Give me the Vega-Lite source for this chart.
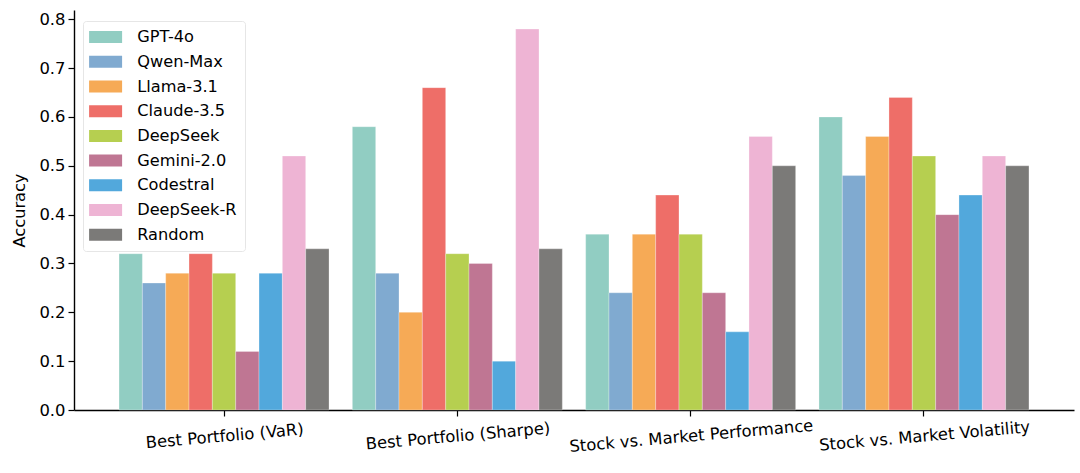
{
  "$schema": "https://vega.github.io/schema/vega-lite/v6.json",
  "width": 1000,
  "height": 400,
  "autosize": {"type": "none"},
  "padding": {"left": 74, "top": 10, "right": 6, "bottom": 63},
  "background": "white",
  "config": {
    "font": "DejaVu Sans",
    "view": {"stroke": null},
    "axis": {"grid": false, "domainColor": "black", "tickColor": "black", "labelColor": "black", "titleColor": "black", "labelFont": "DejaVu Sans", "titleFont": "DejaVu Sans", "titleFontWeight": "normal"}
  },
  "data": {"values": [
    {"task": "Best Portfolio (VaR)", "model": "GPT-4o", "acc": 0.32},
    {"task": "Best Portfolio (VaR)", "model": "Qwen-Max", "acc": 0.26},
    {"task": "Best Portfolio (VaR)", "model": "Llama-3.1", "acc": 0.28},
    {"task": "Best Portfolio (VaR)", "model": "Claude-3.5", "acc": 0.32},
    {"task": "Best Portfolio (VaR)", "model": "DeepSeek", "acc": 0.28},
    {"task": "Best Portfolio (VaR)", "model": "Gemini-2.0", "acc": 0.12},
    {"task": "Best Portfolio (VaR)", "model": "Codestral", "acc": 0.28},
    {"task": "Best Portfolio (VaR)", "model": "DeepSeek-R", "acc": 0.52},
    {"task": "Best Portfolio (VaR)", "model": "Random", "acc": 0.33},
    {"task": "Best Portfolio (Sharpe)", "model": "GPT-4o", "acc": 0.58},
    {"task": "Best Portfolio (Sharpe)", "model": "Qwen-Max", "acc": 0.28},
    {"task": "Best Portfolio (Sharpe)", "model": "Llama-3.1", "acc": 0.20},
    {"task": "Best Portfolio (Sharpe)", "model": "Claude-3.5", "acc": 0.66},
    {"task": "Best Portfolio (Sharpe)", "model": "DeepSeek", "acc": 0.32},
    {"task": "Best Portfolio (Sharpe)", "model": "Gemini-2.0", "acc": 0.30},
    {"task": "Best Portfolio (Sharpe)", "model": "Codestral", "acc": 0.10},
    {"task": "Best Portfolio (Sharpe)", "model": "DeepSeek-R", "acc": 0.78},
    {"task": "Best Portfolio (Sharpe)", "model": "Random", "acc": 0.33},
    {"task": "Stock vs. Market Performance", "model": "GPT-4o", "acc": 0.36},
    {"task": "Stock vs. Market Performance", "model": "Qwen-Max", "acc": 0.24},
    {"task": "Stock vs. Market Performance", "model": "Llama-3.1", "acc": 0.36},
    {"task": "Stock vs. Market Performance", "model": "Claude-3.5", "acc": 0.44},
    {"task": "Stock vs. Market Performance", "model": "DeepSeek", "acc": 0.36},
    {"task": "Stock vs. Market Performance", "model": "Gemini-2.0", "acc": 0.24},
    {"task": "Stock vs. Market Performance", "model": "Codestral", "acc": 0.16},
    {"task": "Stock vs. Market Performance", "model": "DeepSeek-R", "acc": 0.56},
    {"task": "Stock vs. Market Performance", "model": "Random", "acc": 0.50},
    {"task": "Stock vs. Market Volatility", "model": "GPT-4o", "acc": 0.60},
    {"task": "Stock vs. Market Volatility", "model": "Qwen-Max", "acc": 0.48},
    {"task": "Stock vs. Market Volatility", "model": "Llama-3.1", "acc": 0.56},
    {"task": "Stock vs. Market Volatility", "model": "Claude-3.5", "acc": 0.64},
    {"task": "Stock vs. Market Volatility", "model": "DeepSeek", "acc": 0.52},
    {"task": "Stock vs. Market Volatility", "model": "Gemini-2.0", "acc": 0.40},
    {"task": "Stock vs. Market Volatility", "model": "Codestral", "acc": 0.44},
    {"task": "Stock vs. Market Volatility", "model": "DeepSeek-R", "acc": 0.52},
    {"task": "Stock vs. Market Volatility", "model": "Random", "acc": 0.50}
  ]},
  "mark": {"type": "bar", "stroke": "white", "strokeOpacity": 0.35, "strokeWidth": 0.8},
  "encoding": {
    "x": {
      "field": "task", "type": "nominal", "sort": null,
      "scale": {"paddingInner": 0.1, "paddingOuter": 0.193},
      "axis": {"title": null, "labelAngle": -5, "labelAlign": "center", "labelBaseline": "top", "labelFontSize": 16.4, "labelPadding": 12, "tickSize": 6, "tickWidth": 1.2, "domainWidth": 1.4, "labelLimit": 300}
    },
    "xOffset": {"field": "model", "type": "nominal", "sort": ["GPT-4o","Qwen-Max","Llama-3.1","Claude-3.5","DeepSeek","Gemini-2.0","Codestral","DeepSeek-R","Random"], "scale": {"paddingInner": 0, "paddingOuter": 0}},
    "y": {
      "field": "acc", "type": "quantitative",
      "scale": {"domain": [0, 0.819], "nice": false},
      "axis": {"title": "Accuracy", "titleFontSize": 16.2, "titlePadding": 11, "labelFontSize": 16.4, "values": [0,0.1,0.2,0.3,0.4,0.5,0.6,0.7,0.8], "format": ".1f", "tickSize": 6, "tickWidth": 1.2, "labelPadding": 3, "domainWidth": 1.4}
    },
    "color": {
      "field": "model", "type": "nominal", "sort": ["GPT-4o","Qwen-Max","Llama-3.1","Claude-3.5","DeepSeek","Gemini-2.0","Codestral","DeepSeek-R","Random"],
      "scale": {"domain": ["GPT-4o","Qwen-Max","Llama-3.1","Claude-3.5","DeepSeek","Gemini-2.0","Codestral","DeepSeek-R","Random"], "range": ["#91CDC2","#80AAD0","#F6AA56","#EE6E68","#B6CF50","#BF7693","#52A8DC","#EEB4D4","#7B7A78"]},
      "legend": {
        "title": null, "orient": "none", "legendX": 9, "legendY": 11,
        "symbolType": "M-2.75,-1H2.75V1H-2.75Z", "symbolSize": 144, "symbolOffset": 6.5, "symbolStrokeWidth": 0, "symbolOpacity": 1,
        "labelFontSize": 16.2, "labelColor": "black", "labelOffset": 23.5, "rowPadding": 7.7,
        "padding": 8, "fillColor": "white", "strokeColor": "#e6e6e6", "cornerRadius": 3
      }
    }
  }
}
